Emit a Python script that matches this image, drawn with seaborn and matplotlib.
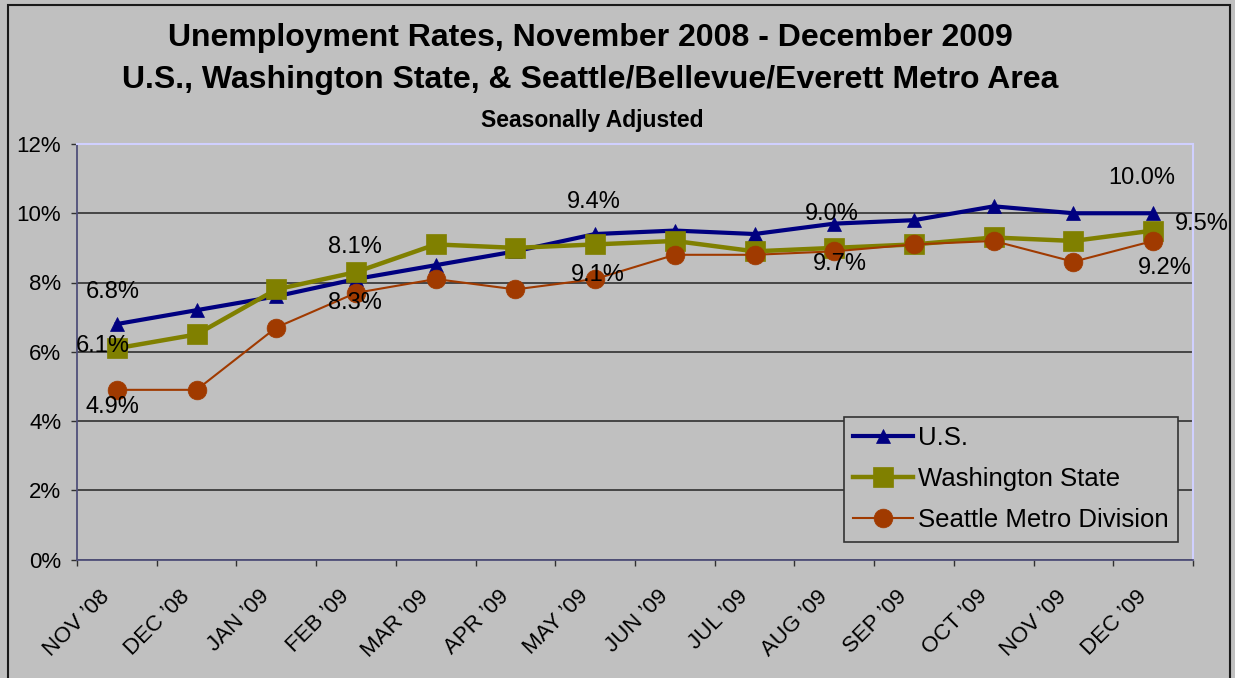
import numpy as np
import pandas as pd
import matplotlib
matplotlib.use("Agg")
import matplotlib.pyplot as plt
import seaborn as sns
from matplotlib.patches import Rectangle
from matplotlib.ticker import FixedLocator, FuncFormatter, NullFormatter

# ---------------- data ----------------
months = ["NOV \u201908", "DEC \u201908", "JAN \u201909", "FEB \u201909", "MAR \u201909",
          "APR \u201909", "MAY \u201909", "JUN \u201909", "JUL \u201909", "AUG \u201909",
          "SEP \u201909", "OCT \u201909", "NOV \u201909", "DEC \u201909"]
us_rate = [6.8, 7.2, 7.6, 8.1, 8.5, 8.9, 9.4, 9.5, 9.4, 9.7, 9.8, 10.2, 10.0, 10.0]
wa_rate = [6.1, 6.5, 7.8, 8.3, 9.1, 9.0, 9.1, 9.2, 8.9, 9.0, 9.1, 9.3, 9.2, 9.5]
sea_rate = [4.9, 4.9, 6.7, 7.7, 8.1, 7.8, 8.1, 8.8, 8.8, 8.9, 9.1, 9.2, 8.6, 9.2]
series_names = ["U.S.", "Washington State", "Seattle Metro Division"]
y_ticks = [0, 2, 4, 6, 8, 10, 12]

title_text = ("Unemployment Rates, November 2008 - December 2009\n"
              "U.S., Washington State, & Seattle/Bellevue/Everett Metro Area")
subtitle_text = "Seasonally Adjusted"

# data labels: (series, month index)
label_series = ["U.S.", "Washington State", "Seattle Metro Division",
                "U.S.", "Washington State",
                "U.S.", "Washington State",
                "Washington State", "U.S.",
                "U.S.", "Washington State", "Seattle Metro Division"]
label_index = [0, 0, 0, 3, 3, 6, 6, 9, 9, 13, 13, 13]

# ---------------- styling (positions / sizes) ----------------
BG = "#C0C0C0"
styles = {
    "U.S.": dict(color="#000080", marker="^", ms=9.5, lw=3.0),
    "Washington State": dict(color="#808000", marker="s", ms=14, lw=3.2),
    "Seattle Metro Division": dict(color="#A03A00", marker="o", ms=13.5, lw=1.5),
}
label_offsets = [(-4, 32), (-14, 2), (-4, -17),
                 (-1, 32), (-1, -31),
                 (-1, 32), (3, -31),
                 (-2, 34), (6, -40),
                 (-11, 35), (49, 7), (12, -27)]
xlabel_shift = -0.125   # rotated month labels sit slightly left of the category centre

plt.rcParams['font.family'] = ['Liberation Sans', 'DejaVu Sans']

fig = plt.figure(figsize=(12.35, 6.78), dpi=100, facecolor=BG)
ax = fig.add_axes([77 / 1235, 1 - 559.5 / 678, 1116 / 1235, 415.5 / 678])
ax.set_facecolor(BG)

x = np.arange(len(months))
df = pd.DataFrame({"idx": np.tile(x, 3),
                   "rate": us_rate + wa_rate + sea_rate,
                   "series": np.repeat(series_names, len(months))})

for name in series_names:
    st = styles[name]
    sub = df[df["series"] == name]
    sns.lineplot(data=sub, x="idx", y="rate", ax=ax, color=st["color"],
                 marker=st["marker"], markersize=st["ms"], linewidth=st["lw"],
                 markeredgecolor=st["color"], markeredgewidth=0.5, label=name)

values = {"U.S.": us_rate, "Washington State": wa_rate, "Seattle Metro Division": sea_rate}
for s, i, (dx, dy) in zip(label_series, label_index, label_offsets):
    v = values[s][i]
    ax.annotate(f"{v:.1f}%", xy=(i, v), xytext=(dx, dy), textcoords="offset pixels",
                ha="center", va="center", fontsize=17, color="black",
                annotation_clip=False, zorder=10)

ax.set_xlim(-0.5, len(months) - 0.5)
ax.set_ylim(0, 12)
ax.set_xlabel("")
ax.set_ylabel("")

ax.set_yticks(y_ticks)
ax.yaxis.set_major_formatter(FuncFormatter(lambda v, p: f"{v:.0f}%"))
ax.tick_params(axis="y", length=4.3, width=1, color="#303030", pad=7,
               labelsize=16, direction="out", left=True)

ax.set_xticks(x + xlabel_shift)
ax.set_xticklabels(months, rotation=45, ha="right", va="center",
                   rotation_mode="anchor", fontsize=16)
ax.xaxis.set_minor_locator(FixedLocator(np.arange(-0.5, len(months), 1.0)))
ax.xaxis.set_minor_formatter(NullFormatter())
ax.tick_params(axis="x", which="major", length=0, pad=24.5)
ax.tick_params(axis="x", which="minor", length=4.3, width=1, color="#303030",
               direction="out", bottom=True)

ax.yaxis.grid(True, color="#3c3c3c", lw=1.3)
ax.xaxis.grid(False)
ax.set_axisbelow(True)

for side in ["left", "bottom"]:
    ax.spines[side].set_color("#50507a")
    ax.spines[side].set_linewidth(1.3)
for side in ["top", "right"]:
    ax.spines[side].set_color("#D0D0FF")
    ax.spines[side].set_linewidth(1.5)

leg = ax.legend(loc="lower left", bbox_to_anchor=(0.687, 0.042), fontsize=18.5,
                frameon=True, fancybox=False, shadow=False, facecolor=BG,
                edgecolor="#333333", framealpha=1, handlelength=2.3,
                handletextpad=0.2, labelspacing=0.66, borderpad=0.38,
                borderaxespad=0)
leg.get_frame().set_linewidth(1.2)

fig.text(590 / 1235, 1 - 59 / 678, title_text, ha="center", va="center",
         fontsize=23, fontweight="bold", linespacing=1.55)
fig.text(592 / 1235, 1 - 120 / 678, subtitle_text, ha="center", va="center",
         fontsize=16.5, fontweight="bold")

fig.add_artist(Rectangle((8 / 1235, -0.05), (1230 - 8) / 1235, 1.05 - 5 / 678,
                         transform=fig.transFigure, fill=False,
                         edgecolor="#1a1a1a", linewidth=1.5))

fig.savefig("out.png", dpi=100, facecolor=BG)
